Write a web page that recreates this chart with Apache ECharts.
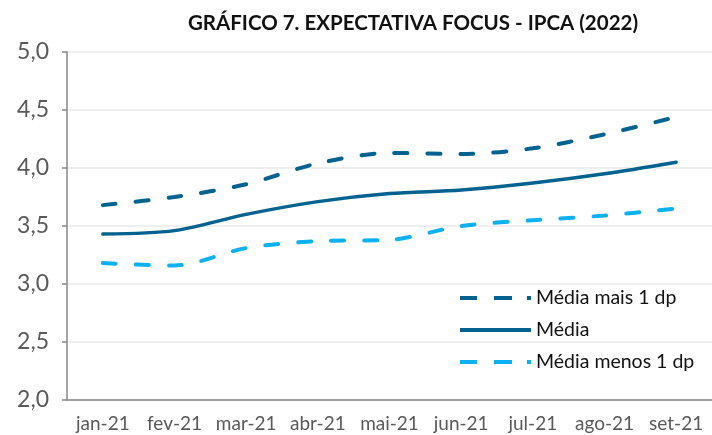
<!DOCTYPE html>
<html>
<head>
<meta charset="utf-8">
<script src="https://cdn.jsdelivr.net/npm/echarts@6/dist/echarts.min.js"></script>
<style>
  html, body { margin: 0; padding: 0; background: #fff; }
  #chart { width: 712px; height: 435px; }
</style>
</head>
<body>
<div id="chart"></div>
<script>
var months = ['jan-21', 'fev-21', 'mar-21', 'abr-21', 'mai-21', 'jun-21', 'jul-21', 'ago-21', 'set-21']
var maisUmDp = [3.68, 3.75, 3.86, 4.04, 4.13, 4.12, 4.17, 4.29, 4.44]
var media = [3.43, 3.46, 3.60, 3.71, 3.78, 3.81, 3.87, 3.95, 4.05]
var menosUmDp = [3.18, 3.16, 3.31, 3.37, 3.38, 3.50, 3.55, 3.59, 3.65]
var yTicks = [2.0, 2.5, 3.0, 3.5, 4.0, 4.5, 5.0]

var darkBlue = '#03628f'
var lightBlue = '#0cb1ef'
var font = 'Lato, "Open Sans", sans-serif'

// legend icons like the excel ones (two dashes and a dot)
var dashIcon = 'path://M0,0h17v4h-17z M34,0h18v4h-18z M67,0h4v4h-4z'
var solidIcon = 'path://M0,0h71v4h-71z'

var chart = echarts.init(document.getElementById('chart'))
chart.setOption({
  animation: false,
  title: {
    text: 'GRÁFICO 7. EXPECTATIVA FOCUS - IPCA (2022)',
    left: 408,
    top: 8,
    textAlign: 'center',
    textStyle: {
      fontFamily: font,
      fontWeight: 'bold',
      fontSize: 20.5,
      color: '#111'
    }
  },
  grid: {
    left: 67,
    right: -6,
    top: 52,
    bottom: 35
  },
  legend: {
    orient: 'vertical',
    left: 455,
    top: 283,
    itemWidth: 71,
    itemHeight: 4,
    itemGap: 12,
    textStyle: {
      fontFamily: font,
      fontSize: 19.5,
      color: '#111'
    },
    data: [
      { name: 'Média mais 1 dp', icon: dashIcon },
      { name: 'Média', icon: solidIcon },
      { name: 'Média menos 1 dp', icon: dashIcon }
    ]
  },
  xAxis: {
    type: 'category',
    data: months,
    boundaryGap: true,
    axisLine: { lineStyle: { color: '#888', width: 1.5 } },
    axisTick: { length: 7, lineStyle: { color: '#888', width: 1.5 } },
    axisLabel: {
      interval: 0,
      margin: 14,
      fontFamily: font,
      fontSize: 19,
      color: '#595959'
    },
    splitLine: { show: false }
  },
  yAxis: {
    type: 'value',
    min: yTicks[0],
    max: yTicks[yTicks.length - 1],
    interval: 0.5,
    axisLine: { show: true, lineStyle: { color: '#888', width: 1.5 } },
    axisTick: { show: true, length: 5, lineStyle: { color: '#888', width: 1.5 } },
    axisLabel: {
      margin: 18,
      fontFamily: font,
      fontSize: 23,
      color: '#595959',
      formatter: function (v) {
        return v.toFixed(1).replace('.', ',')
      }
    },
    splitLine: { lineStyle: { color: '#efefef', width: 2 } }
  },
  series: [
    {
      name: 'Média mais 1 dp',
      type: 'line',
      data: maisUmDp,
      smooth: 0.3,
      symbol: 'none',
      color: darkBlue,
      lineStyle: { width: 4, type: [13, 20], cap: 'round', color: darkBlue }
    },
    {
      name: 'Média',
      type: 'line',
      data: media,
      smooth: 0.3,
      symbol: 'none',
      color: darkBlue,
      lineStyle: { width: 3.5, cap: 'round', color: darkBlue }
    },
    {
      name: 'Média menos 1 dp',
      type: 'line',
      data: menosUmDp,
      smooth: 0.3,
      symbol: 'none',
      color: lightBlue,
      lineStyle: { width: 4, type: [13, 20], cap: 'round', color: lightBlue }
    }
  ]
})
</script>
</body>
</html>
